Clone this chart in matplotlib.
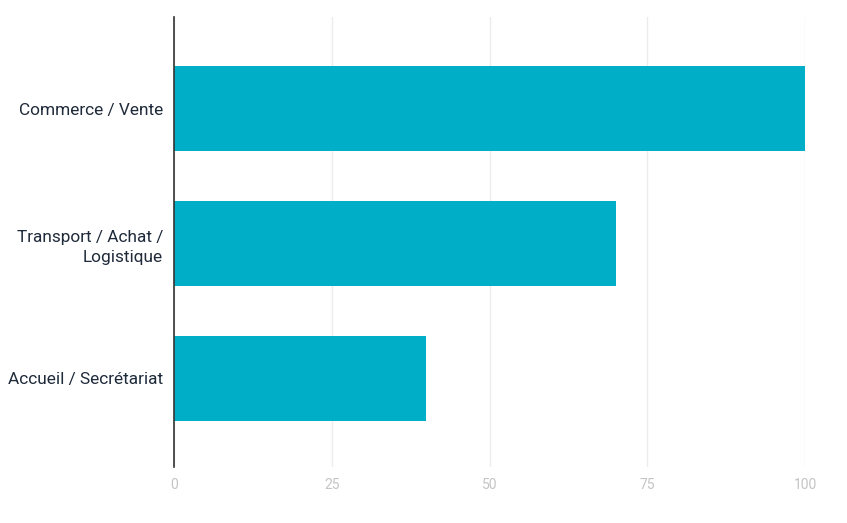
import matplotlib
matplotlib.use("Agg")
import matplotlib.pyplot as plt

categories = ["Commerce / Vente", "Transport / Achat /\nLogistique", "Accueil / Secrétariat"]
values = [100, 70, 40]
xticks = [0, 25, 50, 75, 100]

plt.rcParams['font.family'] = ['Roboto', 'DejaVu Sans']

fig = plt.figure(figsize=(8.47, 5.23), dpi=100)
ax = fig.add_axes([174/847, 1-467/523, (805-174)/847, (467-17)/523])

ypos = list(range(len(categories)))
ax.barh(ypos, values, height=0.63, color="#00AEC7", zorder=3)
ax.set_ylim(2.66, -0.68)
ax.set_xlim(0, 100)
ax.set_yticks(ypos)
ax.set_yticklabels(categories, fontsize=12.4, color="#1f2a3a", ha="right", linespacing=1.45)
ax.set_xticks(xticks)
ax.set_xticklabels([str(t) for t in xticks], fontsize=10, color="#c4c4c4")
ax.tick_params(axis="both", length=0)
ax.tick_params(axis="y", pad=8)
ax.tick_params(axis="x", pad=8)
ax.grid(axis="x", color="#ececec", linewidth=1, zorder=0)
for s in ["top", "right", "bottom"]:
    ax.spines[s].set_visible(False)
ax.spines["left"].set_color("#333333")
ax.spines["left"].set_linewidth(1.2)
ax.spines["left"].set_zorder(4)

fig.savefig("out.png", dpi=100)
